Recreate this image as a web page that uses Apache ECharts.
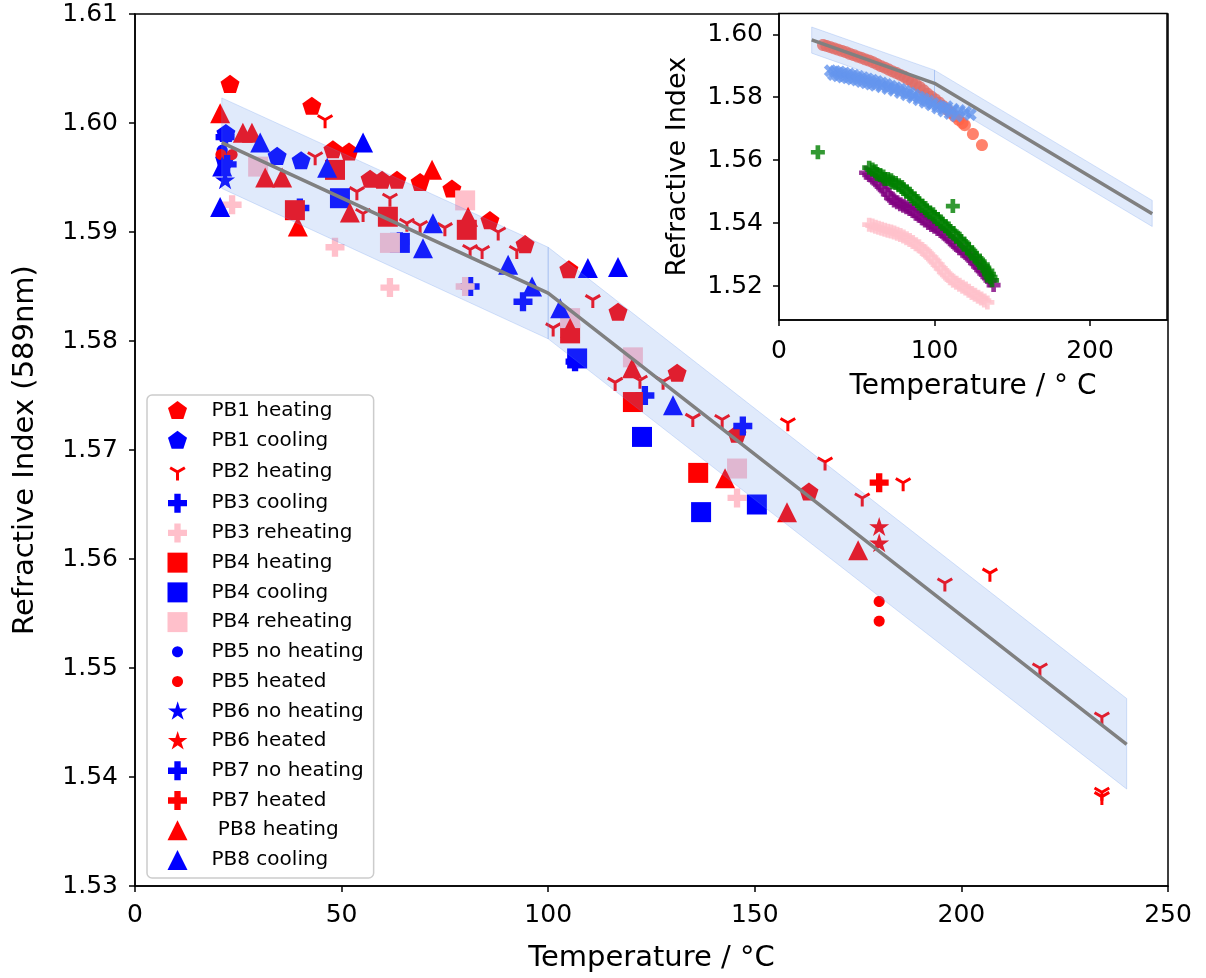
<!DOCTYPE html>
<html><head><meta charset="utf-8">
<script src="https://cdn.jsdelivr.net/npm/echarts@6/dist/echarts.min.js"></script>
<style>html,body{margin:0;padding:0;background:#fff}#c{width:1206px;height:978px}</style>
</head><body><div id="c"></div>
<script>
// ---------------- DATA (Temperature °C, refractive index) ----------------
const pb1Heating = [[23.0,1.6035],[42.8,1.6015],[47.9,1.5975],[51.8,1.5973],[56.9,1.5948],[59.8,1.5947],[63.4,1.5947],[69.0,1.5945],[76.7,1.5939],[85.9,1.5910],[94.4,1.5888],[105.0,1.5865],[116.9,1.5826],[131.2,1.5770],[145.7,1.5714],[163.1,1.5661]];
const pb1Cooling = [[22.0,1.5990],[21.7,1.5966],[34.4,1.5969],[40.2,1.5965]];
const pb2Heating = [[46.0,1.6003],[43.6,1.5969],[53.7,1.5937],[55.2,1.5917],[61.7,1.5931],[65.8,1.5908],[69.0,1.5906],[75.0,1.5904],[81.1,1.5884],[84.0,1.5883],[87.9,1.5900],[92.4,1.5883],[101.2,1.5812],[110.8,1.5838],[116.2,1.5762],[122.2,1.5764],[127.8,1.5763],[135.0,1.5729],[142.1,1.5728],[158.0,1.5725],[167.0,1.5689],[176.0,1.5656],[185.9,1.5670],[196.0,1.5578],[206.9,1.5587],[219.0,1.5500],[234.0,1.5455],[234.0,1.5386],[234.0,1.5382]];
const pb3Cooling = [[39.9,1.5922],[64.1,1.5891],[81.1,1.5850],[93.9,1.5836],[106.5,1.5781],[123.4,1.5750],[147.1,1.5722]];
const pb3Reheating = [[23.5,1.5925],[48.4,1.5886],[61.7,1.5849],[79.9,1.5850],[145.7,1.5656]];
const pb4Heating = [[38.7,1.5920],[48.4,1.5957],[61.2,1.5914],[80.3,1.5902],[105.3,1.5807],[120.5,1.5744],[136.3,1.5679]];
const pb4Cooling = [[49.6,1.5931],[64.1,1.5890],[107.0,1.5784],[122.7,1.5712],[137.0,1.5643],[150.5,1.5650]];
const pb4Reheating = [[29.8,1.5960],[61.7,1.5890],[79.9,1.5929],[105.3,1.5821],[120.5,1.5785],[145.7,1.5683]];
const pb5NoHeating = [[21.1,1.5975]];
const pb5Heated = [[20.8,1.5971],[23.5,1.5971],[180.1,1.5561],[180.1,1.5543]];
const pb6NoHeating = [[21.8,1.5947]];
const pb6Heated = [[180.1,1.5629],[180.1,1.5614]];
const pb7NoHeating = [[21.8,1.5987],[22.3,1.5962]];
const pb7Heated = [[180.1,1.5670]];
const pb8Heating = [[20.6,1.6009],[26.1,1.5991],[28.3,1.5991],[31.5,1.5950],[35.6,1.5950],[39.4,1.5905],[52.0,1.5918],[71.9,1.5957],[80.6,1.5914],[105.3,1.5812],[120.3,1.5775],[142.8,1.5674],[157.8,1.5643],[175.0,1.5608]];
const pb8Cooling = [[20.6,1.5923],[21.1,1.5960],[30.3,1.5982],[46.5,1.5959],[55.2,1.5982],[72.1,1.5908],[69.7,1.5885],[90.3,1.5870],[96.1,1.5850],[102.9,1.5830],[109.6,1.5867],[116.9,1.5868],[130.2,1.5741]];

// fit line and band (two segments, break at 100 °C)
const fitT = [21, 100, 240];
const fitN = [1.5982, 1.5844, 1.5430];
const bandUpper = [1.6023, 1.5886, 1.5472];
const bandLower = [1.5940, 1.5802, 1.5389];

// inset series
const insetSalmon = [[28.3,1.5966],[30.5,1.5963],[33,1.5959],[35.5,1.5955],[38,1.5951],[40.5,1.5947],[43,1.5943],[45.5,1.5938],[48,1.5934],[50.5,1.5929],[53,1.5925],[55.5,1.5920],[58,1.5916],[60.5,1.5911],[63,1.5905],[65.5,1.5899],[68,1.5894],[70.5,1.5888],[73,1.5882],[75.5,1.5877],[78,1.5871],[80.5,1.5865],[83,1.5857],[85.5,1.5849],[88,1.5841],[90.5,1.5832],[93,1.5822],[95.5,1.5811],[98,1.5802],[100.5,1.5793],[103,1.5783],[105.5,1.5772],[108,1.5761],[110.5,1.5750],[113,1.5739],[115.5,1.5728],[118,1.5718],[119.5,1.5711],[124.7,1.5683],[130.5,1.5648]];
const insetBlueX = [[33,1.5884],[36,1.5882],[39,1.5880],[42,1.5877],[45,1.5874],[48,1.5870],[51,1.5866],[54,1.5862],[57,1.5858],[60,1.5854],[63,1.5850],[66,1.5845],[69,1.5840],[72,1.5835],[75,1.5830],[78,1.5825],[81,1.5819],[84,1.5813],[87,1.5807],[90,1.5800],[93,1.5794],[96,1.5787],[99,1.5780],[102,1.5773],[105,1.5766],[108,1.5770],[112,1.5762],[116,1.5758],[120,1.5752],[123,1.5745],
  [35,1.5872],[38,1.5868],[41,1.5864],[44,1.5862],[47,1.5858],[50,1.5855],[53,1.5850],[56,1.5846],[59,1.5842],[62,1.5838],[66,1.5833],[70,1.5828],[74,1.5822],[78,1.5815],[82,1.5808],[86,1.5800],[90,1.5792],[94,1.5784],[98,1.5776],[102,1.5766],[106,1.5756],[110,1.5748],[114,1.5740]];
const insetPurple = [[56,1.5560],[58,1.5553],[60,1.5545],[62,1.5536],[64,1.5526],[66,1.5516],[68,1.5505],[70,1.5492],[72,1.5480],[74,1.5472],[76,1.5466],[78,1.5460],[80,1.5455],[82,1.5450],[84,1.5445],[86,1.5438],[88,1.5430],[90,1.5423],[92,1.5415],[94,1.5408],[96,1.5400],[98,1.5394],[100,1.5388],[102,1.5381],[104,1.5375],[106,1.5367],[108,1.5358],[110,1.5349],[112,1.5340],[114,1.5330],[116,1.5320],[118,1.5312],[120,1.5305],[122,1.5295],[124,1.5285],[126,1.5273],[128,1.5262],[130,1.5251],[132,1.5240],[134,1.5229],[136,1.5218],[138,1.5203]];
const insetGreen = [[25,1.5625],[111.8,1.5454],[58,1.5576],[60,1.5570],[62,1.5565],[63,1.5556],[65,1.5553],[67,1.5548],[68,1.5540],[70,1.5540],[72,1.5536],[73,1.5530],[75,1.5527],[77,1.5520],[79,1.5515],[80,1.5508],[82,1.5500],[84,1.5493],[85,1.5485],[87,1.5478],[89,1.5470],[90,1.5462],[92,1.5455],[94,1.5448],[95,1.5440],[97,1.5434],[99,1.5428],[100,1.5420],[102,1.5413],[104,1.5405],[105,1.5398],[107,1.5390],[109,1.5383],[110,1.5375],[112,1.5368],[114,1.5358],[116,1.5350],[117,1.5342],[119,1.5333],[121,1.5323],[122,1.5316],[124,1.5305],[126,1.5296],[127,1.5288],[129,1.5278],[131,1.5268],[132,1.5258],[134,1.5248],[135,1.5238],[136,1.5228],[137,1.5218]];
const insetPink = [[58,1.5395],[60,1.5392],[62,1.5388],[64,1.5385],[66,1.5382],[68,1.5379],[70,1.5376],[72,1.5373],[74,1.5370],[76,1.5366],[78,1.5362],[80,1.5357],[82,1.5352],[84,1.5346],[86,1.5340],[88,1.5333],[90,1.5326],[92,1.5318],[94,1.5310],[96,1.5300],[98,1.5290],[100,1.5279],[102,1.5268],[104,1.5256],[106,1.5245],[108,1.5235],[110,1.5225],[112,1.5217],[114,1.5210],[116,1.5204],[118,1.5198],[120,1.5192],[122,1.5185],[124,1.5178],[126,1.5172],[128,1.5166],[130,1.5160],[132,1.5154],[134,1.5148]];

const mainTicksX = [0, 50, 100, 150, 200, 250];
const insetTicksX = [0, 100, 200];
const insetTicksY = [1.52, 1.54, 1.56, 1.58, 1.60];

// ---------------- marker shapes ----------------
function ngon(n, rOut, rIn) {
  const k = rIn ? 2 * n : n, pts = [];
  for (let i = 0; i < k; i++) {
    const a = -Math.PI / 2 + i * 2 * Math.PI / k;
    const r = rIn ? (i % 2 ? rIn : rOut) : rOut;
    pts.push([r * Math.cos(a), r * Math.sin(a)]);
  }
  return pts;
}
const t3 = 1 / 3;
const plusPts = [[-t3,-1],[t3,-1],[t3,-t3],[1,-t3],[1,t3],[t3,t3],[t3,1],[-t3,1],[-t3,t3],[-1,t3],[-1,-t3],[-t3,-t3]];
const xs = 1 / ((1 + t3) / Math.SQRT2);
const xPts = plusPts.map(p => [(p[0] - p[1]) / Math.SQRT2 * xs, (p[0] + p[1]) / Math.SQRT2 * xs]);
const SHAPE = {
  pentagon: { pts: ngon(5, 1) },
  star: { pts: ngon(5, 1, 0.382) },
  circle: { pts: ngon(36, 1) },
  square: { pts: [[-1,-1],[1,-1],[1,1],[-1,1]] },
  triangle: { pts: [[0,-1],[1,1],[-1,1]] },
  plus: { pts: plusPts },
  xcross: { pts: xPts },
  tri: { lines: [[0,1],[-0.866,-0.5],[0.866,-0.5]] }
};
function shapePath(name, s, cx, cy) {
  const sh = SHAPE[name];
  const f = v => v.toFixed(3);
  if (sh.lines) return sh.lines.map(p => 'M' + f(cx) + ' ' + f(cy) + 'L' + f(cx + p[0] * s) + ' ' + f(cy + p[1] * s)).join('');
  return 'M' + sh.pts.map(p => f(cx + p[0] * s) + ' ' + f(cy + p[1] * s)).join('L') + 'Z';
}
const symbolOf = name => 'path://M-1 -1M1 1' + shapePath(name, 1, 0, 0);
const LW = 44, LH = 20;
const legendIconOf = (name, px) => 'path://M0 0M' + LW + ' ' + LH + shapePath(name, px / 2, 15, 10);

// ---------------- series specs ----------------
const RED = '#ff0000', BLUE = '#0000ff', PINK = '#ffc0cb';
const mainSpecs = [
  ['PB1 heating', pb1Heating, 'pentagon', 20, RED],
  ['PB1 cooling', pb1Cooling, 'pentagon', 20, BLUE],
  ['PB2 heating', pb2Heating, 'tri', 17, RED],
  ['PB3 cooling', pb3Cooling, 'plus', 19, BLUE],
  ['PB3 reheating', pb3Reheating, 'plus', 19, PINK],
  ['PB4 heating', pb4Heating, 'square', 20, RED],
  ['PB4 cooling', pb4Cooling, 'square', 20, BLUE],
  ['PB4 reheating', pb4Reheating, 'square', 20, PINK],
  ['PB5 no heating', pb5NoHeating, 'circle', 11, BLUE],
  ['PB5 heated', pb5Heated, 'circle', 11, RED],
  ['PB6 no heating', pb6NoHeating, 'star', 21, BLUE],
  ['PB6 heated', pb6Heated, 'star', 21, RED],
  ['PB7 no heating', pb7NoHeating, 'plus', 19, BLUE],
  ['PB7 heated', pb7Heated, 'plus', 19, RED],
  [' PB8 heating', pb8Heating, 'triangle', 20, RED],
  ['PB8 cooling', pb8Cooling, 'triangle', 20, BLUE]
];

const series = [];
mainSpecs.forEach(([name, data, shape, size, color]) => {
  const isLine = shape === 'tri';
  series.push({
    type: 'scatter', name, data, xAxisIndex: 0, yAxisIndex: 0,
    symbol: symbolOf(shape), symbolSize: size, silent: true, z: 2,
    itemStyle: isLine ? { color: color, borderColor: color, borderWidth: 3, opacity: 1 }
                      : { color: color, borderWidth: 0, opacity: 1 }
  });
});

function bandSeries(axisIdx) {
  return {
    type: 'custom', xAxisIndex: axisIdx, yAxisIndex: axisIdx, silent: true, z: 5,
    data: [[0], [1]],
    renderItem: (params, api) => {
      const i = api.value(0);
      const p = [api.coord([fitT[i], bandUpper[i]]), api.coord([fitT[i + 1], bandUpper[i + 1]]),
                 api.coord([fitT[i + 1], bandLower[i + 1]]), api.coord([fitT[i], bandLower[i]])];
      return { type: 'polygon', shape: { points: p },
               style: { fill: 'rgba(100,149,237,0.2)', stroke: 'rgba(100,149,237,0.25)', lineWidth: 1 } };
    }
  };
}
function lineSeries(axisIdx) {
  return {
    type: 'line', xAxisIndex: axisIdx, yAxisIndex: axisIdx, silent: true, z: 6,
    data: fitT.map((t, i) => [t, fitN[i]]), showSymbol: false, symbol: 'none',
    lineStyle: { color: '#808080', width: 3.5 }
  };
}
series.push(bandSeries(0), lineSeries(0));

const insetSpecs = [
  [insetSalmon, 'circle', 12, '#ff6347'],
  [insetBlueX, 'xcross', 13, '#6495ed'],
  [insetPurple, 'plus', 14, '#800080'],
  [insetGreen, 'plus', 14, '#008000'],
  [insetPink, 'plus', 14, '#ffc0cb']
];
insetSpecs.forEach(([data, shape, size, color]) => {
  series.push({ type: 'scatter', data, xAxisIndex: 1, yAxisIndex: 1, symbol: symbolOf(shape),
    symbolSize: size, silent: true, z: 2, itemStyle: { color, borderWidth: 0 } });
});
series.push(bandSeries(1), lineSeries(1));

const legendData = mainSpecs.map(([name, , shape, size]) => {
  const item = { name, icon: legendIconOf(shape, size) };
  if (shape === 'tri') item.itemStyle = { borderWidth: 3, color: 'transparent', borderColor: RED };
  return item;
});

const FONT = 'DejaVu Sans';
const axisCommon = {
  axisLine: { show: true, onZero: false, lineStyle: { color: '#000', width: 1.5 } },
  axisTick: { show: true, inside: false, length: 6, lineStyle: { color: '#000', width: 1.5 } },
  splitLine: { show: false }
};

const option = {
  animation: false,
  backgroundColor: '#ffffff',
  textStyle: { fontFamily: FONT },
  grid: [
    { left: 135, top: 14, width: 1033, height: 872, show: true, borderColor: '#000', borderWidth: 1.5, backgroundColor: 'transparent' },
    { left: 779, top: 13.5, width: 388, height: 306.5, show: true, borderColor: '#000', borderWidth: 1.5, backgroundColor: '#fff' }
  ],
  xAxis: [
    Object.assign({}, axisCommon, {
      gridIndex: 0, type: 'value', min: 0, max: 250, interval: 50,
      name: 'Temperature / °C', nameLocation: 'middle', nameGap: 58,
      nameTextStyle: { fontSize: 29, color: '#000', fontFamily: FONT },
      axisLabel: { fontSize: 25, color: '#000', margin: 17, fontFamily: FONT, customValues: mainTicksX },
      axisTick: Object.assign({}, axisCommon.axisTick, { customValues: mainTicksX })
    }),
    Object.assign({}, axisCommon, {
      gridIndex: 1, type: 'value', min: 0, max: 249.5,
      name: 'Temperature / ° C', nameLocation: 'middle', nameGap: 53,
      nameTextStyle: { fontSize: 28, color: '#000', fontFamily: FONT },
      axisLabel: { fontSize: 25, color: '#000', margin: 19, fontFamily: FONT, customValues: insetTicksX },
      axisTick: Object.assign({}, axisCommon.axisTick, { customValues: insetTicksX })
    })
  ],
  yAxis: [
    Object.assign({}, axisCommon, {
      gridIndex: 0, type: 'value', min: 1.53, max: 1.61, interval: 0.01,
      name: 'Refractive Index (589nm)', nameLocation: 'middle', nameGap: 95, nameRotate: 90,
      nameTextStyle: { fontSize: 29, color: '#000', fontFamily: FONT },
      axisLabel: { fontSize: 25, color: '#000', margin: 17, fontFamily: FONT, formatter: v => v.toFixed(2) }
    }),
    Object.assign({}, axisCommon, {
      gridIndex: 1, type: 'value', min: 1.5092, max: 1.6066,
      name: 'Refractive Index', nameLocation: 'middle', nameGap: 88, nameRotate: 90,
      nameTextStyle: { fontSize: 27, color: '#000', fontFamily: FONT },
      axisLabel: { fontSize: 25, color: '#000', margin: 16, fontFamily: FONT, customValues: insetTicksY, formatter: v => v.toFixed(2) },
      axisTick: Object.assign({}, axisCommon.axisTick, { customValues: insetTicksY })
    })
  ],
  legend: {
    show: true, orient: 'vertical', left: 147, top: 395,
    itemWidth: LW, itemHeight: LH, itemGap: 9.73,
    padding: [6, 10, 8, 14],
    borderColor: '#cccccc', borderWidth: 1.5, borderRadius: 5,
    backgroundColor: 'rgba(255,255,255,0.8)',
    selectedMode: false,
    textStyle: { fontSize: 20, color: '#000', fontFamily: FONT, lineHeight: 20 },
    data: legendData
  },
  series
};

const chart = echarts.init(document.getElementById('c'), null, { renderer: 'canvas' });
chart.setOption(option);
</script>
</body></html>
